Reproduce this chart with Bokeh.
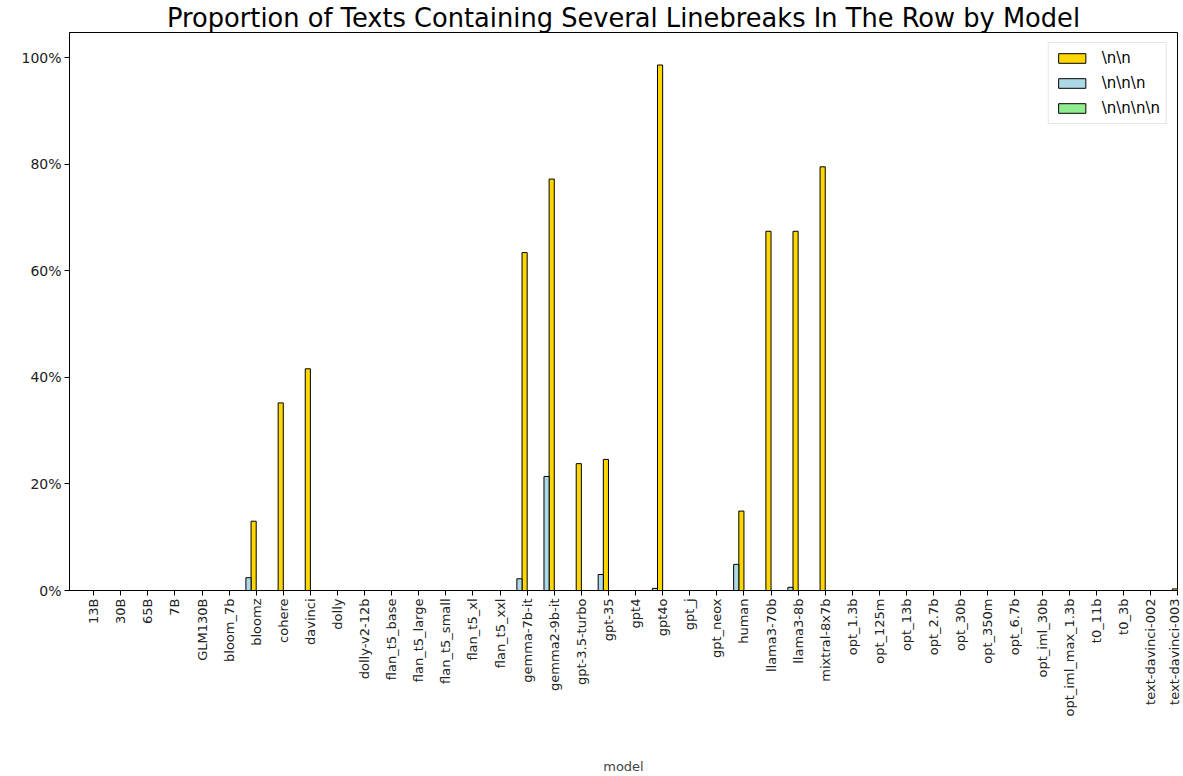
import math
from bokeh.plotting import figure
from bokeh.models import Range1d, FixedTicker, NumeralTickFormatter, Legend, LegendItem, ColumnDataSource
from bokeh.embed import file_html
from bokeh.resources import INLINE

models = ["13B", "30B", "65B", "7B", "GLM130B", "bloom_7b", "bloomz", "cohere", "davinci",
          "dolly", "dolly-v2-12b", "flan_t5_base", "flan_t5_large", "flan_t5_small",
          "flan_t5_xl", "flan_t5_xxl", "gemma-7b-it", "gemma2-9b-it", "gpt-3.5-turbo",
          "gpt-35", "gpt4", "gpt4o", "gpt_j", "gpt_neox", "human", "llama3-70b", "llama3-8b",
          "mixtral-8x7b", "opt_1.3b", "opt_125m", "opt_13b", "opt_2.7b", "opt_30b",
          "opt_350m", "opt_6.7b", "opt_iml_30b", "opt_iml_max_1.3b", "t0_11b", "t0_3b",
          "text-davinci-002", "text-davinci-003"]

# \n\n
nn = [0, 0, 0, 0, 0, 0, 0.130, 0.352, 0.416, 0, 0, 0, 0, 0, 0, 0, 0.634, 0.772, 0.238,
      0.246, 0, 0.986, 0, 0, 0.149, 0.674, 0.674, 0.795, 0, 0, 0, 0, 0, 0, 0, 0, 0, 0, 0,
      0, 0.003]
# \n\n\n
nnn = [0, 0, 0, 0, 0, 0, 0.024, 0, 0, 0, 0, 0, 0, 0, 0, 0, 0.022, 0.214, 0, 0.030, 0,
       0.004, 0, 0, 0.049, 0, 0.006, 0, 0, 0, 0, 0, 0, 0, 0, 0, 0, 0, 0, 0, 0]
# \n\n\n\n
nnnn = [0] * len(models)

series_labels = ["\\n\\n", "\\n\\n\\n", "\\n\\n\\n\\n"]
colors = ["#FFD700", "#ADD8E6", "#90EE90"]

idx = list(range(len(models)))
bw = 0.19
offsets = [-0.5 * bw, -1.5 * bw, -2.5 * bw]

FONT = "DejaVu Sans"

p = figure(frame_width=1108, frame_height=558, output_backend="svg", toolbar_location=None,
           x_range=Range1d(-0.89, 40.0), y_range=Range1d(0, 1.047),
           min_border_left=69, min_border_right=4, min_border_top=22, min_border_bottom=150,
           background_fill_color="white", border_fill_color="white")

p.title.text = "Proportion of Texts Containing Several Linebreaks In The Row by Model"
p.title.text_font = FONT
p.title.text_font_size = "25.7px"
p.title.text_font_style = "normal"
p.title.align = "center"
p.title.text_color = "black"
p.title.standoff = 0
p.title.offset = 0

renderers = []
for vals, off, col in zip([nn, nnn, nnnn], offsets, colors):
    src = ColumnDataSource(dict(x=[i + off for i in idx], top=vals))
    r = p.vbar(x="x", top="top", width=bw, bottom=0, source=src, fill_color=col,
               line_color="black", line_width=1)
    renderers.append(r)

legend = Legend(items=[LegendItem(label=l, renderers=[r]) for l, r in zip(series_labels, renderers)],
                location="top_right")
legend.label_text_font = FONT
legend.label_text_font_size = "15px"
legend.label_text_color = "black"
legend.glyph_width = 34
legend.glyph_height = 12
legend.label_height = 15
legend.spacing = 7
legend.padding = 6
legend.margin = 10
legend.label_standoff = 13
legend.border_line_color = "#cccccc"
legend.border_line_width = 1
legend.background_fill_alpha = 0.9
p.add_layout(legend)

p.xgrid.visible = False
p.ygrid.visible = False
p.outline_line_color = "black"
p.outline_line_width = 1

p.xaxis.ticker = FixedTicker(ticks=idx)
p.xaxis.major_label_overrides = {i: m for i, m in enumerate(models)}
p.xaxis.major_label_orientation = math.pi / 2
p.xaxis.axis_label = "model"
p.xaxis.axis_label_text_font_style = "normal"
p.xaxis.axis_label_text_font = FONT
p.xaxis.axis_label_text_font_size = "13px"
p.xaxis.axis_label_standoff = 40

p.yaxis.ticker = FixedTicker(ticks=[0, 0.2, 0.4, 0.6, 0.8, 1.0])
p.yaxis.formatter = NumeralTickFormatter(format="0%")

for ax in [p.xaxis, p.yaxis]:
    ax.major_label_text_font = FONT
    ax.major_label_text_font_size = "13px"
    ax.major_label_text_color = "#222222"
    ax.axis_line_color = "black"
    ax.major_tick_line_color = "black"
    ax.major_tick_out = 5
    ax.major_tick_in = 0
    ax.minor_tick_line_color = None
    ax.major_label_standoff = 3
p.yaxis.major_label_text_font_size = "14px"

open("out.html", "w").write(file_html(p, INLINE))
